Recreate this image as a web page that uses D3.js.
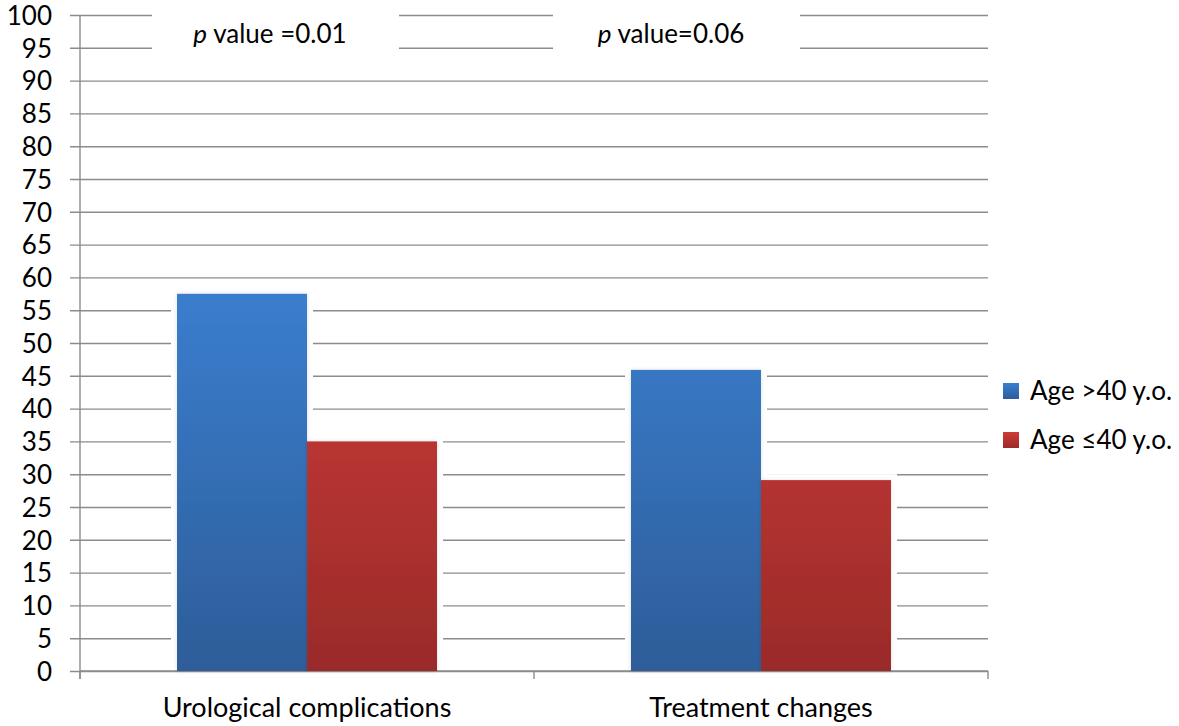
<!DOCTYPE html>
<html>
<head>
<meta charset="utf-8">
<script src="https://cdn.jsdelivr.net/npm/d3@7"></script>
<style>
  body { margin: 0; background: #fff; }
  text { font-family: Lato, "Open Sans", sans-serif; fill: #000; }
</style>
</head>
<body>
<svg width="1179" height="726"></svg>
<script>
var categories = ["Urological complications", "Treatment changes"]
var seriesNames = ["Age >40 y.o.", "Age \u226440 y.o."]
var olderValues = [57.5, 45.9]
var youngerValues = [35.0, 29.1]
var yTicks = d3.range(0, 101, 5)
var pLabels = [["p", " value =0.01"], ["p", " value=0.06"]]

var svg = d3.select("svg")
var margin = {left: 80, right: 191, top: 15, bottom: 55}
var width = 1179, height = 726
var x0 = margin.left, x1 = width - margin.right
var yBottom = height - margin.bottom
// the text boxes sit a little left of the category centres
var boxShift = [-31, -84]

var rows = categories.map(function (c, i) {
  return {cat: c, vals: [olderValues[i], youngerValues[i]]}
})

var x = d3.scaleBand()
    .domain(categories)
    .range([x0, x1])
    .paddingInner(0.4273)
    .paddingOuter(0.2137)

var xs = d3.scaleBand()
    .domain(seriesNames)
    .range([0, x.bandwidth()])

var y = d3.scaleLinear()
    .domain([0, 100])
    .range([yBottom, margin.top])

var defs = svg.append("defs")
var grads = [["gBlue", "#3b7fd0", "#2d5d99"], ["gRed", "#cf3b38", "#9a2b29"]]
grads.forEach(function (g) {
  var lg = defs.append("linearGradient").attr("id", g[0])
      .attr("x1", 0).attr("y1", 0).attr("x2", 0).attr("y2", 1)
  lg.append("stop").attr("offset", "0%").attr("stop-color", g[1])
  lg.append("stop").attr("offset", "100%").attr("stop-color", g[2])
})
// bars use one gradient across the whole plot height
grads.forEach(function (g) {
  var lg = defs.append("linearGradient").attr("id", g[0] + "U")
      .attr("gradientUnits", "userSpaceOnUse")
      .attr("x1", 0).attr("y1", y(60)).attr("x2", 0).attr("y2", y(0))
  lg.append("stop").attr("offset", "0%").attr("stop-color", g[1])
  lg.append("stop").attr("offset", "100%").attr("stop-color", g[2])
})
defs.append("filter").attr("id", "shadow")
    .attr("x", "-10%").attr("y", "-10%").attr("width", "120%").attr("height", "120%")
  .append("feDropShadow")
    .attr("dx", 0).attr("dy", 0).attr("stdDeviation", 2)
    .attr("flood-color", "#000").attr("flood-opacity", 0.12)

// y axis with full-width gridlines
var yAxis = d3.axisLeft(y)
    .tickValues(yTicks)
    .tickSize(-(x1 - x0) - 10)
svg.append("g")
    .attr("transform", "translate(" + (x0 - 10) + ",0)")
    .call(yAxis)
    .call(function (g) {
      g.select(".domain").remove()
      g.selectAll(".tick line").attr("stroke", "#8c8c8c").attr("stroke-width", 1.4)
      g.selectAll(".tick text").style("font-size", "26px").attr("x", -18).attr("dy", "0.36em")
    })

svg.append("line")
    .attr("x1", x0).attr("x2", x0)
    .attr("y1", y(100)).attr("y2", yBottom + 8)
    .attr("stroke", "#8c8c8c").attr("stroke-width", 1.4)

// x axis
svg.append("line")
    .attr("x1", x0).attr("x2", x1)
    .attr("y1", yBottom).attr("y2", yBottom)
    .attr("stroke", "#8c8c8c").attr("stroke-width", 1.4)
var xBounds = [x0].concat(categories.map(function (c) { return x(c) + x.bandwidth() + x.step() * x.paddingInner() / 2 }))
xBounds[xBounds.length - 1] = x1
svg.selectAll(".xtick").data(xBounds).enter().append("line")
    .attr("x1", function (d) { return d }).attr("x2", function (d) { return d })
    .attr("y1", yBottom).attr("y2", yBottom + 8)
    .attr("stroke", "#8c8c8c").attr("stroke-width", 1.4)
svg.selectAll(".xlab").data(categories).enter().append("text")
    .attr("x", function (d) { return x(d) + x.bandwidth() / 2 })
    .attr("y", 717)
    .attr("text-anchor", "middle")
    .style("font-size", "27px")
    .text(function (d) { return d })

// p value text boxes (white backgrounds break the gridlines)
var boxes = svg.selectAll(".pbox").data(categories).enter().append("g")
    .attr("transform", function (d, i) { return "translate(" + (x(d) + x.bandwidth() / 2 + boxShift[i]) + ",0)" })
boxes.append("rect")
    .attr("x", -124)
    .attr("y", 8).attr("width", 247).attr("height", 52)
    .attr("fill", "#fff")
boxes.append("text")
    .attr("x", -6)
    .attr("y", 43)
    .attr("text-anchor", "middle")
    .style("font-size", "26px")
    .each(function (d, i) {
      var t = d3.select(this)
      t.append("tspan").style("font-style", "italic").text(pLabels[i][0])
      t.append("tspan").text(pLabels[i][1])
    })

// bars
var groups = svg.selectAll(".grp").data(rows).enter().append("g")
    .attr("transform", function (d) { return "translate(" + x(d.cat) + ",0)" })
groups.selectAll(".glow").data(function (d) { return d.vals }).enter().append("rect")
    .attr("x", function (d, i) { return xs(seriesNames[i]) - 6 })
    .attr("y", function (d) { return y(d) - 6 })
    .attr("width", xs.bandwidth() + 12)
    .attr("height", function (d) { return yBottom - y(d) + 5 })
    .attr("fill", "#fff")
groups.selectAll(".bar").data(function (d) { return d.vals }).enter().append("rect")
    .attr("x", function (d, i) { return xs(seriesNames[i]) })
    .attr("y", function (d) { return y(d) })
    .attr("width", xs.bandwidth())
    .attr("height", function (d) { return yBottom - y(d) })
    .attr("fill", function (d, i) { return i === 0 ? "url(#gBlueU)" : "url(#gRedU)" })
    .attr("filter", "url(#shadow)")

// legend
var legend = svg.selectAll(".leg").data(seriesNames).enter().append("g")
    .attr("transform", function (d, i) { return "translate(1003," + (383 + i * 49) + ")" })
legend.append("rect")
    .attr("width", 16).attr("height", 16)
    .attr("fill", function (d, i) { return i === 0 ? "url(#gBlue)" : "url(#gRed)" })
legend.append("text")
    .attr("x", 27).attr("y", 17)
    .style("font-size", "26px")
    .text(function (d) { return d })
</script>
</body>
</html>
